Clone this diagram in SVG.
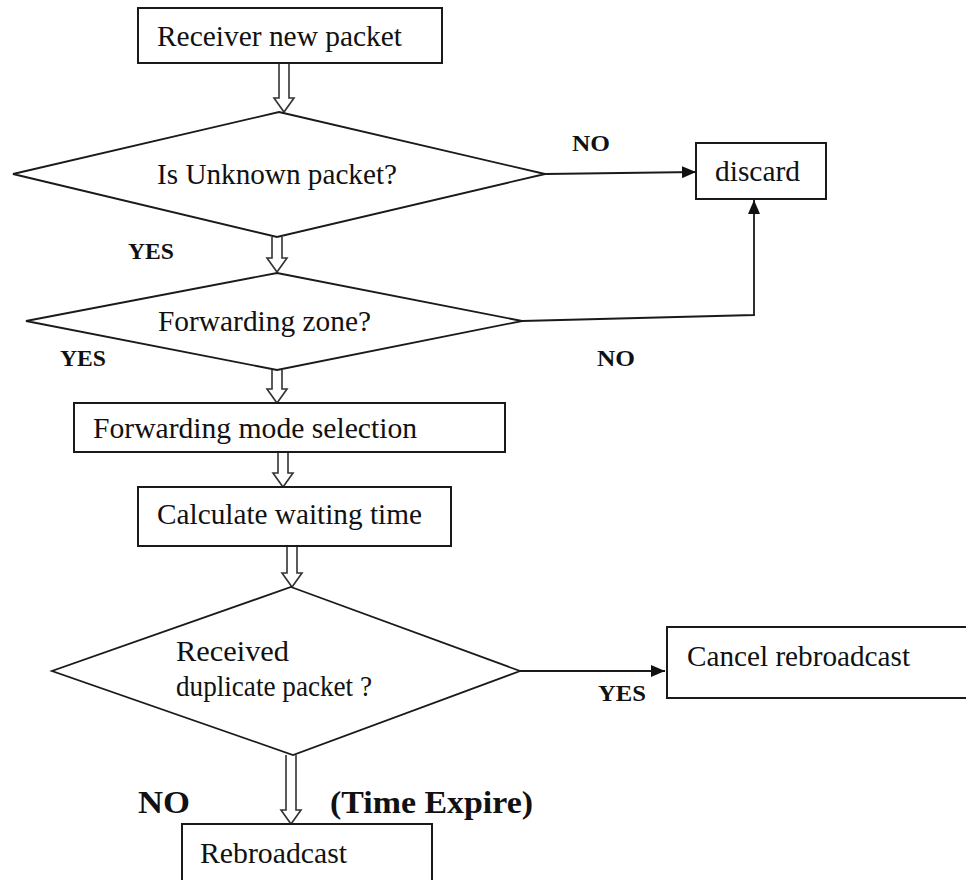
<svg xmlns="http://www.w3.org/2000/svg" width="966" height="880" viewBox="0 0 966 880">
<defs>
<style>
.box{fill:#fff;stroke:#1a1a1a;stroke-width:2}
.dia{fill:#fff;stroke:#1a1a1a;stroke-width:1.8}
.t{font-family:"Liberation Serif","Times New Roman",serif;font-size:30px;fill:#111}
.b{font-family:"Liberation Serif","Times New Roman",serif;font-size:24px;font-weight:bold;fill:#111}
.bb{font-family:"Liberation Serif","Times New Roman",serif;font-size:32px;font-weight:bold;fill:#111}
.ln{fill:none;stroke:#1a1a1a;stroke-width:1.8}
.ha{fill:#fff;stroke:#333;stroke-width:1.6;stroke-linejoin:miter}
</style>
<marker id="ah" viewBox="0 0 14 12" refX="14" refY="6" markerWidth="14" markerHeight="12" markerUnits="userSpaceOnUse" orient="auto">
<path d="M0,0 L14,6 L0,12 Z" fill="#111"/>
</marker>
</defs>
<rect width="966" height="880" fill="#fff"/>
<g id="connectors">
<path class="ha" d="M279,63 L279,98 L274,98 L284,112 L294,98 L289,98 L289,63"/>
<path class="ha" d="M272,237 L272,258 L267,258 L277,272 L287,258 L282,258 L282,237"/>
<path class="ha" d="M272,370 L272,389 L267,389 L277,403 L287,389 L282,389 L282,370"/>
<path class="ha" d="M278,452 L278,473 L273,473 L283,487 L293,473 L288,473 L288,452"/>
<path class="ha" d="M287,546 L287,573 L282,573 L292,587 L302,573 L297,573 L297,546"/>
<path class="ha" d="M286,755 L286,810 L281,810 L291,824 L301,810 L296,810 L296,755"/>
<path class="ln" d="M545,174 L696,172" marker-end="url(#ah)"/>
<path class="ln" d="M522,321 L754,315 L754,200" marker-end="url(#ah)"/>
<path class="ln" d="M520,671 L665,671" marker-end="url(#ah)"/>
</g>
<g id="n1"><rect class="box" x="138" y="8" width="304" height="55"/><text class="t" x="157" y="46" textLength="245" lengthAdjust="spacingAndGlyphs">Receiver new packet</text></g>
<g id="d1"><polygon class="dia" points="279,112 545,174 277,237 13,174"/><text class="t" x="157" y="184" textLength="240" lengthAdjust="spacingAndGlyphs">Is Unknown packet?</text></g>
<g id="discard"><rect class="box" x="696" y="143" width="130" height="56"/><text class="t" x="715" y="181" textLength="85" lengthAdjust="spacingAndGlyphs">discard</text></g>
<g id="d2"><polygon class="dia" points="277,273 522,321 277,370 26,321"/><text class="t" x="158" y="331" textLength="213" lengthAdjust="spacingAndGlyphs">Forwarding zone?</text></g>
<g id="n3"><rect class="box" x="74" y="403" width="431" height="49"/><text class="t" x="93" y="438" textLength="324" lengthAdjust="spacingAndGlyphs">Forwarding mode selection</text></g>
<g id="n4"><rect class="box" x="138" y="487" width="313" height="59"/><text class="t" x="157" y="524" textLength="265" lengthAdjust="spacingAndGlyphs">Calculate waiting time</text></g>
<g id="d3"><polygon class="dia" points="291,587 520,671 293,755 52,671"/><text class="t" x="176" y="661" textLength="113" lengthAdjust="spacingAndGlyphs">Received</text><text class="t" x="176" y="696" textLength="196" lengthAdjust="spacingAndGlyphs">duplicate packet ?</text></g>
<g id="cancel"><rect class="box" x="667" y="627" width="320" height="71"/><text class="t" x="687" y="666" textLength="223" lengthAdjust="spacingAndGlyphs">Cancel rebroadcast</text></g>
<g id="rebroadcast"><rect class="box" x="182" y="824" width="250" height="80"/><text class="t" x="200" y="863" textLength="147" lengthAdjust="spacingAndGlyphs">Rebroadcast</text></g>
<g id="labels">
<text class="b" x="572" y="151" textLength="38" lengthAdjust="spacingAndGlyphs">NO</text>
<text class="b" x="128" y="259" textLength="46" lengthAdjust="spacingAndGlyphs">YES</text>
<text class="b" x="60" y="366" textLength="46" lengthAdjust="spacingAndGlyphs">YES</text>
<text class="b" x="597" y="366" textLength="38" lengthAdjust="spacingAndGlyphs">NO</text>
<text class="b" x="598" y="701" textLength="48" lengthAdjust="spacingAndGlyphs">YES</text>
<text class="bb" x="138" y="813" textLength="52" lengthAdjust="spacingAndGlyphs">NO</text>
<text class="bb" x="330" y="813" textLength="203" lengthAdjust="spacingAndGlyphs">(Time Expire)</text>
</g>
</svg>
